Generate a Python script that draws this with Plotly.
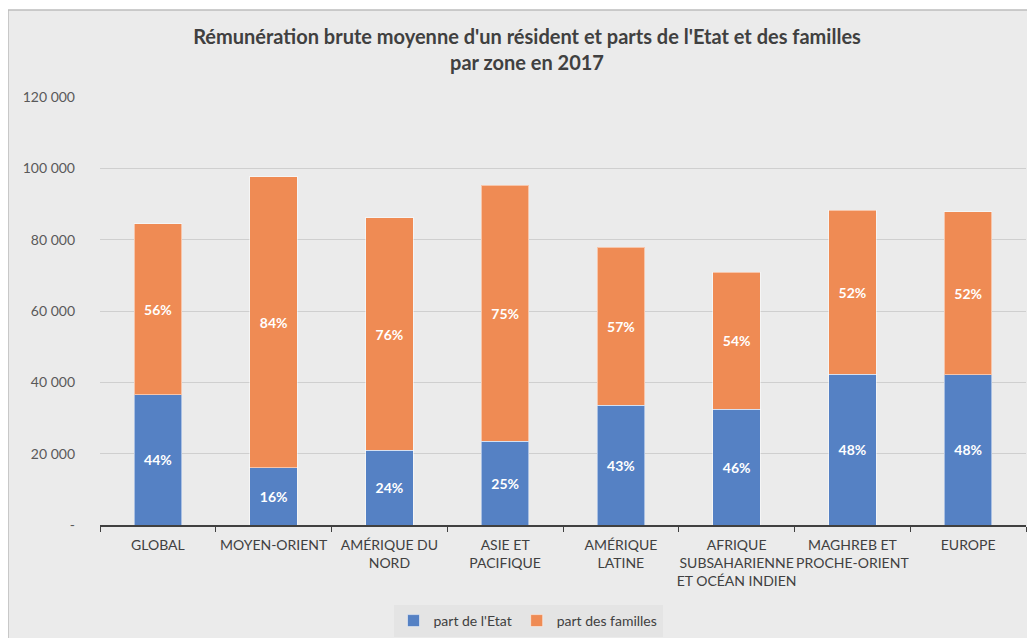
import plotly.graph_objects as go

categories = ["GLOBAL", "MOYEN-ORIENT", "AMÉRIQUE DU<br>NORD", "ASIE ET<br>PACIFIQUE",
              "AMÉRIQUE<br>LATINE", "AFRIQUE<br>SUBSAHARIENNE<br>ET OCÉAN INDIEN",
              "MAGHREB ET<br>PROCHE-ORIENT", "EUROPE"]
part_etat = [36500, 16000, 21000, 23500, 33600, 32500, 42300, 42100]
part_familles = [47900, 81600, 65100, 71800, 44300, 38400, 46000, 45700]
pct_etat = ["44%", "16%", "24%", "25%", "43%", "46%", "48%", "48%"]
pct_familles = ["56%", "84%", "76%", "75%", "57%", "54%", "52%", "52%"]
y_tickvals = [0, 20000, 40000, 60000, 80000, 100000, 120000]
y_ticktext = ["-", "20 000", "40 000", "60 000", "80 000", "100 000", "120 000"]

FONT = "Lato"
W, H = 1035, 638
# page has an 8px body margin; coordinates below are in figure pixels
L, R, T, B = 92, 17, 89, 121
pw, ph = W - L - R, H - T - B

def px_x(x):
    return (x - L) / pw

def px_y(y):
    return (H - B - y) / ph

fig = go.Figure()
fig.add_trace(go.Bar(
    x=categories, y=part_etat, name="part de l'Etat",
    marker=dict(color="#5581c4", line=dict(color="rgba(255,255,255,0.5)", width=1)),
    text=pct_etat, textposition="inside", insidetextanchor="middle", textangle=0,
    textfont=dict(color="white", size=14, family=FONT, weight="bold"),
    width=0.41,
))
fig.add_trace(go.Bar(
    x=categories, y=part_familles, name="part des familles",
    marker=dict(color="#ef8b54", line=dict(color="rgba(255,255,255,0.5)", width=1)),
    text=pct_familles, textposition="inside", insidetextanchor="middle", textangle=0,
    textfont=dict(color="white", size=14, family=FONT, weight="bold"),
    width=0.41,
))

fig.update_layout(
    width=W, height=H,
    barmode="stack",
    margin=dict(l=L, r=R, t=T, b=B, autoexpand=False),
    paper_bgcolor="white",
    plot_bgcolor="rgba(0,0,0,0)",
    font=dict(family=FONT, color="#404040", size=14),
    title=dict(
        text="Rémunération brute moyenne d'un résident et parts de l'Etat et des familles<br>par zone en 2017",
        x=519 / W, xanchor="center", xref="container", y=0.943, yanchor="middle", yref="container",
        font=dict(size=20, family=FONT, color="#404040", weight="bold"),
    ),
    xaxis=dict(
        showgrid=False, showline=True, linecolor="#404040", linewidth=1.5,
        ticks="outside", ticklen=5, tickcolor="#404040", tickson="boundaries",
        tickfont=dict(size=14, color="#404040", family=FONT),
        tickangle=0, automargin=False, ticklabelstandoff=6,
        range=[-0.5, 7.5],
    ),
    yaxis=dict(
        range=[0, 120000], tickvals=y_tickvals, ticktext=y_ticktext,
        showgrid=True, gridcolor="#cfcfcf", gridwidth=1, zeroline=False,
        tickfont=dict(size=14, color="#595959", family=FONT),
        ticklabelstandoff=24, automargin=False,
    ),
    legend=dict(
        orientation="h", x=px_x(520), xanchor="center", y=px_y(613), yanchor="middle",
        bgcolor="#e4e4e4", font=dict(size=14, color="#404040", family=FONT),
        traceorder="normal",
    ),
    showlegend=True,
    shapes=[dict(
        type="rect", xref="paper", yref="paper", layer="below",
        x0=px_x(0), x1=px_x(1045), y0=px_y(645), y1=px_y(2),
        fillcolor="#ebebeb", line=dict(color="#bdbdbd", width=1.5),
    )],
)

fig.write_html("out.html")
